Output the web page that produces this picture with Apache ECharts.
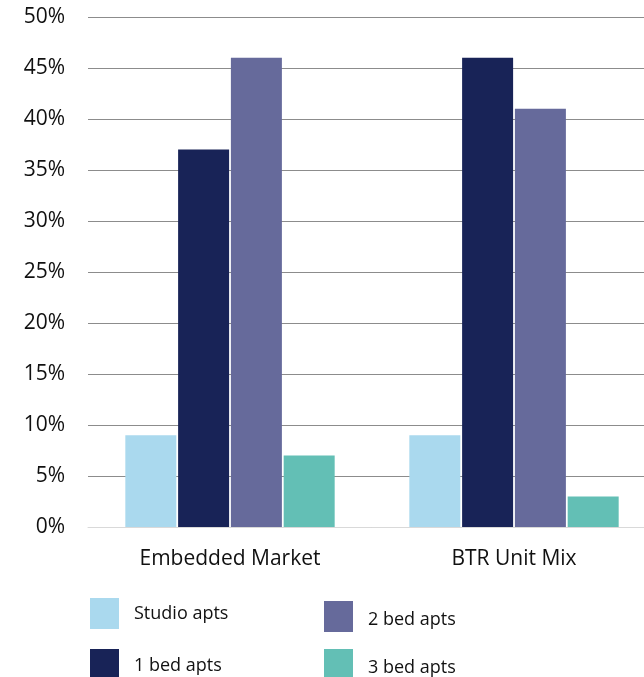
<!DOCTYPE html>
<html>
<head>
<meta charset="utf-8">
<script src="https://cdn.jsdelivr.net/npm/echarts@6/dist/echarts.min.js"></script>
<style>
  html, body { margin: 0; padding: 0; background: #fff; overflow: hidden; }
  /* plot runs slightly past the right edge of the page */
  #chart { width: 656px; height: 677px; }
</style>
</head>
<body>
<div id="chart"></div>
<script>
// Unit mix share by apartment type
const categories = ['Embedded Market', 'BTR Unit Mix'];
const studioApts = [9, 9];
const oneBedApts = [37, 46];
const twoBedApts = [46, 41];
const threeBedApts = [7, 3];
const yTicks = [0, 5, 10, 15, 20, 25, 30, 35, 40, 45, 50];

const FONT = '"Open Sans"';
const colors = {
  studio: '#aad9ee',
  one: '#182357',
  two: '#666a9b',
  three: '#63bfb5'
};

const chart = echarts.init(document.getElementById('chart'), null, { renderer: 'canvas' });

function bar(name, data, color) {
  return {
    name: name,
    type: 'bar',
    data: data,
    barWidth: 51,
    barGap: '3.5%',
    itemStyle: { color: color },
    emphasis: { disabled: true }
  };
}

// one legend entry per block so each can be placed on its own
function legendItem(name, left, top, dy) {
  return {
    left: left, top: top,
    padding: 0,
    itemWidth: 29, itemHeight: 31,
    icon: 'rect',
    selectedMode: false,
    data: [name],
    formatter: '{t|{name}}',
    textStyle: {
      fontFamily: FONT, fontSize: 18, color: '#111',
      rich: { t: { fontFamily: FONT, fontSize: 18, color: '#111', padding: [dy, 0, 0, 10] } }
    }
  };
}

chart.setOption({
  animation: false,
  grid: { left: 88, right: 0, top: 17, bottom: 150, containLabel: false },
  xAxis: {
    type: 'category',
    data: categories,
    axisLine: { show: true, lineStyle: { color: '#d9d9d9', width: 1 } },
    axisTick: { show: false },
    axisLabel: { fontFamily: FONT, fontSize: 21, color: '#111', margin: 22 }
  },
  yAxis: {
    type: 'value',
    min: yTicks[0],
    max: yTicks[yTicks.length - 1],
    interval: 5,
    axisLine: { show: false },
    axisTick: { show: false },
    splitLine: { lineStyle: { color: '#8c8c8c', width: 1 } },
    axisLabel: { fontFamily: FONT, fontSize: 21, color: '#111', margin: 23, formatter: '{value}%' }
  },
  legend: [
    legendItem('Studio apts', 90, 598, 0),
    legendItem('1 bed apts', 90, 649, 2),
    legendItem('2 bed apts', 324, 601, 6),
    legendItem('3 bed apts', 324, 649, 6)
  ],
  series: [
    bar('Studio apts', studioApts, colors.studio),
    bar('1 bed apts', oneBedApts, colors.one),
    bar('2 bed apts', twoBedApts, colors.two),
    bar('3 bed apts', threeBedApts, colors.three)
  ]
});
</script>
</body>
</html>
